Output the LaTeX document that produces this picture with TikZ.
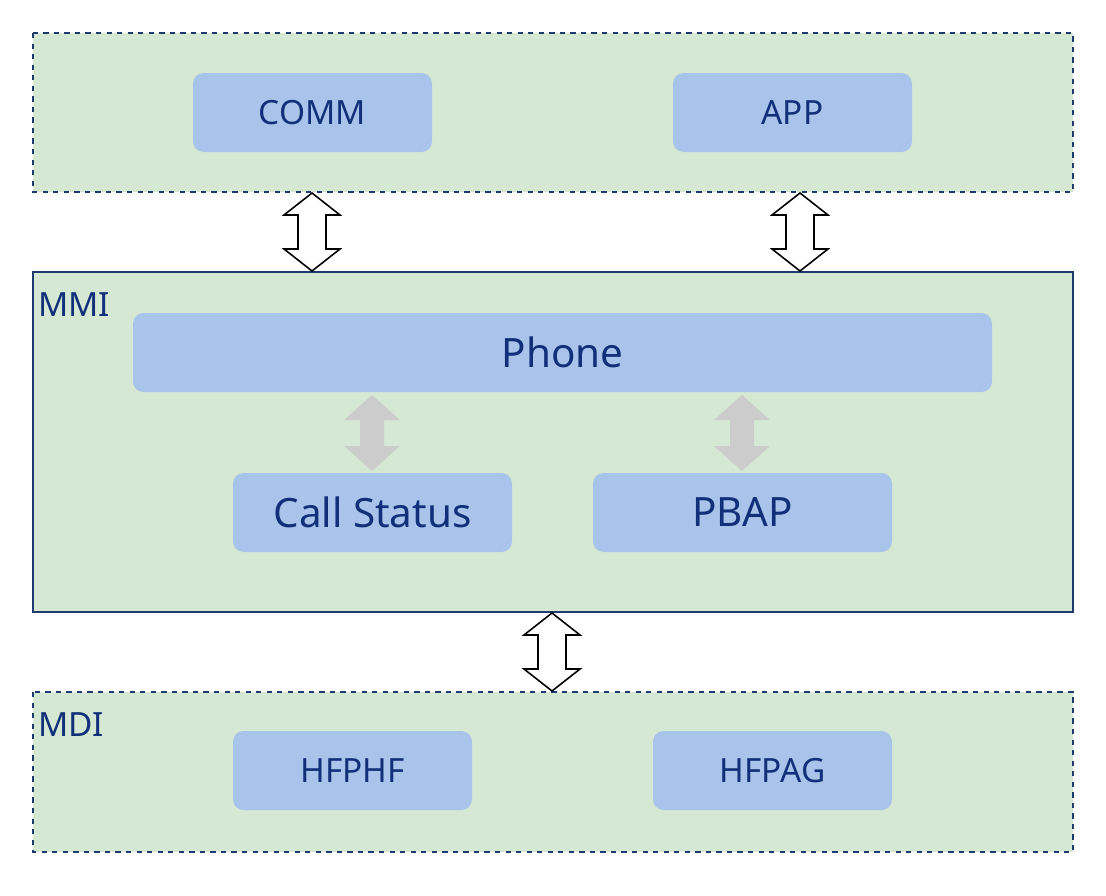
\documentclass[tikz,border=0pt]{standalone}
\usepackage{fontspec}
\setmainfont{Noto Sans}
\definecolor{layerfill}{HTML}{D5E8D4}
\definecolor{layerline}{HTML}{1F3A6E}
\definecolor{blockfill}{HTML}{A9C4EB}
\definecolor{blocktext}{HTML}{12307A}
\definecolor{linkgray}{HTML}{CCCCCC}
\tikzset{
  layer/.style={draw=layerline, fill=layerfill, line width=1pt},
  block/.style={fill=blockfill, rounded corners=6pt, text=blocktext, font=\fontsize{19}{22}\selectfont},
  bigblock/.style={block, font=\fontsize{23}{26}\selectfont\bfseries},
  outarrow/.style={draw=black, fill=white, line width=0.9pt},
  grayarrow/.style={fill=linkgray}
}
% block arrow: x, top y, bottom y, half head, half shaft, head length, style
\newcommand\blockarrow[7]{%
  \path[#7] (#1,#2) -- (#1+#4,#2+#6) -- (#1+#5,#2+#6) -- (#1+#5,#3-#6)
    -- (#1+#4,#3-#6) -- (#1,#3) -- (#1-#4,#3-#6) -- (#1-#5,#3-#6)
    -- (#1-#5,#2+#6) -- (#1-#4,#2+#6) -- cycle;}
\begin{document}
\begin{tikzpicture}[x=0.02cm, y=-0.02cm]
    \useasboundingbox (0,0) rectangle (1106,896);

    % layers
    \path[layer, dashed] (33,33) rectangle (1073,192);
    \path[layer] (33,272) rectangle (1073,612);
    \path[layer, dashed] (33,692) rectangle (1073,852);
    \node[anchor=north west, text=blocktext, font=\fontsize{19}{22}\selectfont, inner sep=0] (mmi) at (38,292) {MMI};
    \node[anchor=north west, text=blocktext, font=\fontsize{19}{22}\selectfont, inner sep=0] (mdi) at (38,712) {MDI};

    % blocks
    \path[block] (193,73) rectangle (432,152) node[midway] (comm) {COMM};
    \path[block] (673,73) rectangle (912,152) node[midway] (app) {APP};
    \path[block] (133,313) rectangle (992,392) node[bigblock, fill=none, midway] (phone) {Phone};
    \path[block] (233,473) rectangle (512,552) node[bigblock, fill=none, midway] (status) {Call Status};
    \path[block] (593,473) rectangle (892,552) node[bigblock, fill=none, midway] (pbap) {PBAP};
    \path[block] (233,731) rectangle (472,810) node[midway] (hfphf) {HFPHF};
    \path[block] (653,731) rectangle (892,810) node[midway] (hfpag) {HFPAG};

    % links between layers
    \blockarrow{312}{193}{271}{28}{14}{22}{outarrow}
    \blockarrow{800}{193}{271}{28}{14}{22}{outarrow}
    \blockarrow{552}{613}{691}{28}{14}{22}{outarrow}
    % links inside MMI
    \blockarrow{372}{395}{471}{28}{12}{25}{grayarrow}
    \blockarrow{742}{395}{471}{28}{12}{25}{grayarrow}
\end{tikzpicture}
\end{document}
